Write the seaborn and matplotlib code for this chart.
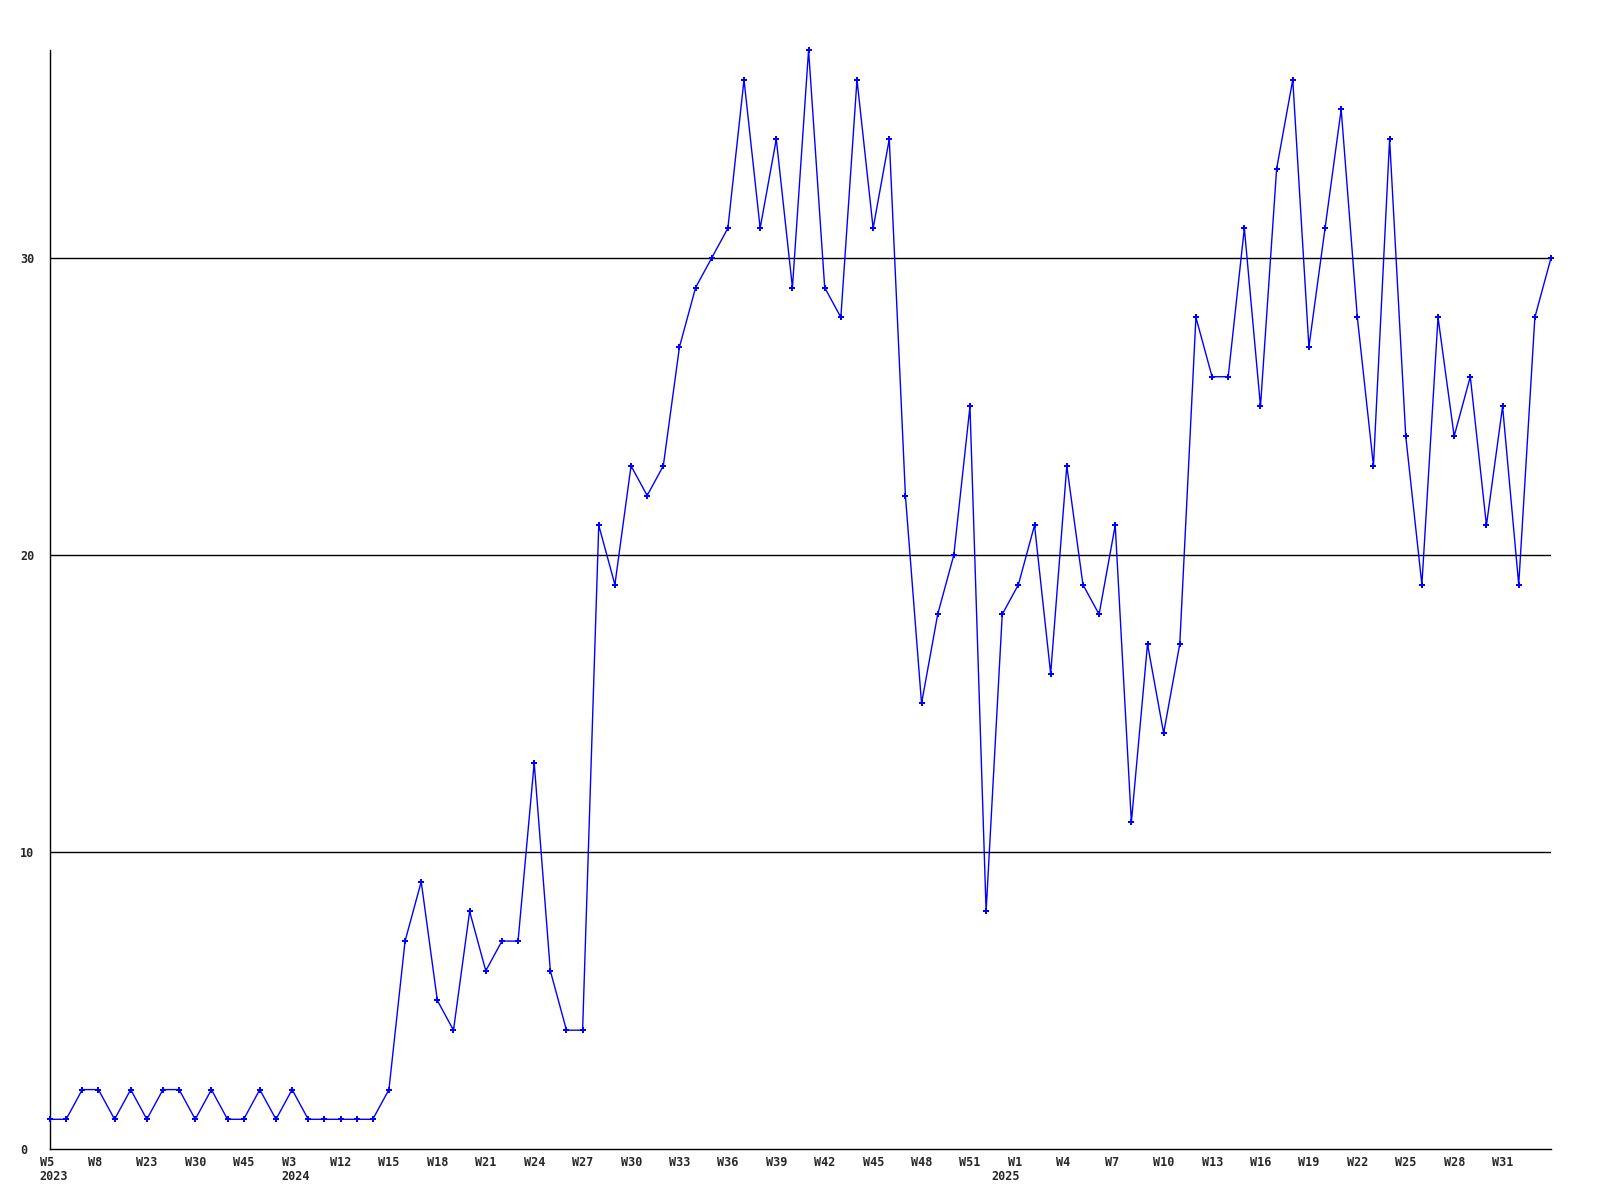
import matplotlib
matplotlib.use("Agg")
import matplotlib.pyplot as plt
import matplotlib.transforms as mtransforms
import seaborn as sns
import pandas as pd

values = [1, 1, 2, 2, 1, 2, 1, 2, 2, 1, 2, 1, 1, 2, 1, 2, 1, 1, 1, 1,
          1, 2, 7, 9, 5, 4, 8, 6, 7, 7, 13, 6, 4, 4, 21, 19, 23, 22, 23, 27,
          29, 30, 31, 36, 31, 34, 29, 37, 29, 28, 36, 31, 34, 22, 15, 18, 20, 25, 8, 18,
          19, 21, 16, 23, 19, 18, 21, 11, 17, 14, 17, 28, 26, 26, 31, 25, 33, 36, 27, 31,
          35, 28, 23, 34, 24, 19, 28, 24, 26, 21, 25, 19, 28, 30]

tick_labels = ["W5", "W8", "W23", "W30", "W45", "W3", "W12", "W15", "W18",
               "W21", "W24", "W27", "W30", "W33", "W36", "W39", "W42", "W45", "W48",
               "W51", "W1", "W4", "W7", "W10", "W13", "W16", "W19", "W22", "W25",
               "W28", "W31"]
tick_step = 3

year_labels = ["2023", "2024", "2025"]
year_index = [0, 15, 59]

y_ticks = [0, 10, 20, 30]

df = pd.DataFrame({"idx": list(range(len(values))), "value": values})

sns.set_style("white")
plt.rcParams["font.family"] = ["DejaVu Sans Mono", "DejaVu Sans"]
FS = 8.5

fig = plt.figure(figsize=(16, 12), dpi=100)
ax = fig.add_axes([50 / 1600, 1 - 1149 / 1200, (1551 - 50) / 1600, (1149 - 50) / 1200])

for yv in y_ticks[1:]:
    ax.axhline(yv, color="black", linewidth=1.0, zorder=1)

sns.lineplot(data=df, x="idx", y="value", ax=ax, color="#0000ff", linewidth=1.0,
             marker="P", markersize=4, markeredgewidth=0, markerfacecolor="#0000ff",
             zorder=3, clip_on=False)

ax.set_xlim(0, len(values) - 1)
ax.set_ylim(0, 37)
ax.set_xlabel("")
ax.set_ylabel("")

ax.set_xticks(list(range(0, len(values), tick_step))[:len(tick_labels)])
ax.set_xticklabels(tick_labels, fontsize=FS, fontweight="bold", ha="left", va="top")
ax.set_yticks(y_ticks)
ax.set_yticklabels([str(v) for v in y_ticks], fontsize=FS, fontweight="bold", ha="left")
ax.tick_params(axis="x", length=0, pad=5)
ax.tick_params(axis="y", length=0, pad=21.5)
offset = mtransforms.ScaledTranslation(-10.5 / 100, 0, fig.dpi_scale_trans)
for lab in ax.get_xticklabels():
    lab.set_transform(lab.get_transform() + offset)

for lbl, xi in zip(year_labels, year_index):
    ax.annotate(lbl, xy=(xi, 0), xycoords=("data", "axes fraction"),
                xytext=(-7.6, -20), textcoords="offset points",
                ha="left", va="center", fontsize=FS, fontweight="bold",
                annotation_clip=False)

for s in ["top", "right"]:
    ax.spines[s].set_visible(False)
for s in ["left", "bottom"]:
    ax.spines[s].set_color("black")
    ax.spines[s].set_linewidth(1.0)

fig.savefig("out.png", dpi=100, facecolor="white")
